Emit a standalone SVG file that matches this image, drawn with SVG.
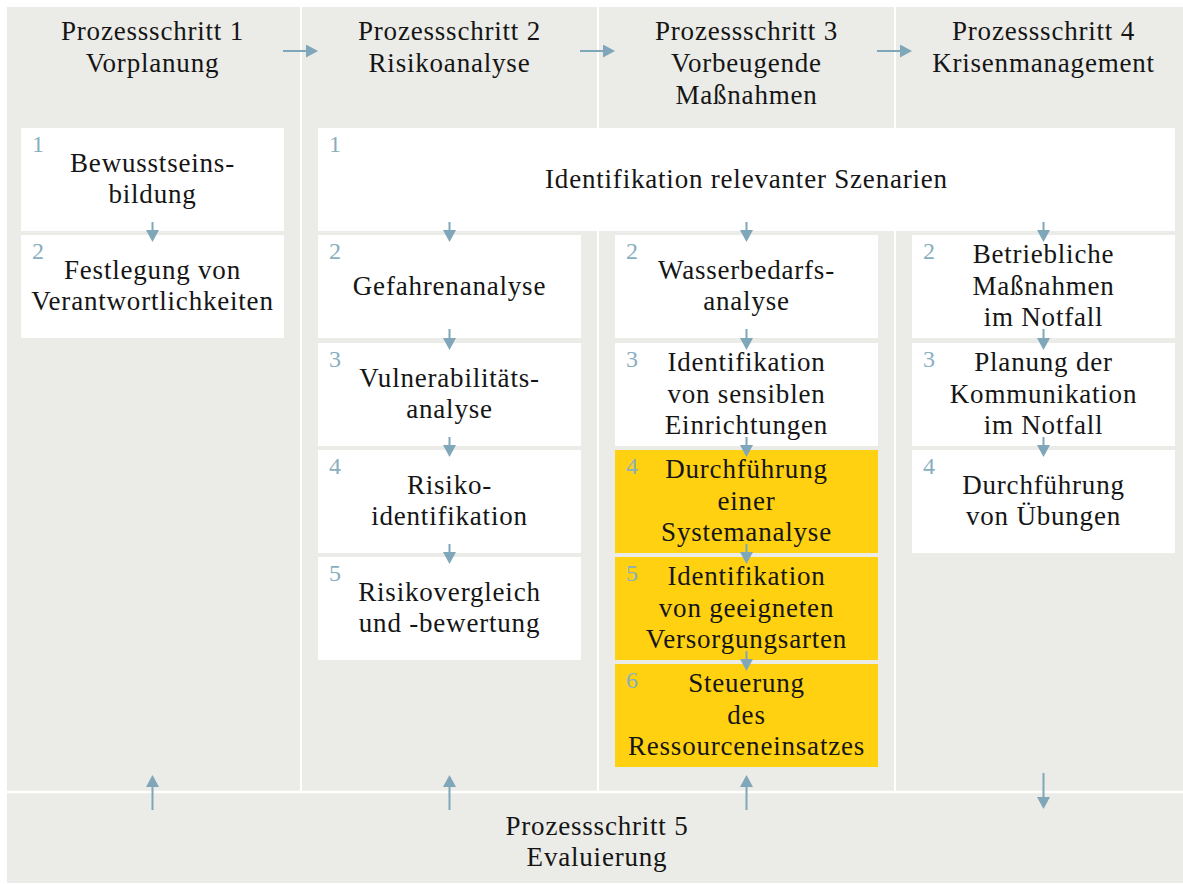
<svg xmlns="http://www.w3.org/2000/svg" width="1183" height="884" viewBox="0 0 1183 884">
  <style>
    .bg { fill: #EBEBE7; }
    .sep { stroke: #FFFFFF; stroke-width: 2; }
    .box { fill: #FFFFFF; }
    .hl { fill: #FFD111; }
    .n { font-size: 24px; fill: #89AEC0; text-anchor: start; letter-spacing: 0; }
    .c { stroke: #7FA6B9; stroke-width: 2; fill: none; marker-end: url(#head); }
  </style>
  <defs>
    <marker id="head" markerUnits="userSpaceOnUse" markerWidth="13" markerHeight="13" refX="1" refY="6.5" orient="auto">
      <path d="M0,0 L12,6.5 L0,13 z" fill="#7FA6B9"/>
    </marker>
  </defs>

  <!-- background panel and white separators -->
  <rect class="bg" x="7" y="7" width="1176" height="876"/>
  <line class="sep" x1="301" y1="7" x2="301" y2="792"/>
  <line class="sep" x1="598" y1="7" x2="598" y2="792"/>
  <line class="sep" x1="895" y1="7" x2="895" y2="792"/>
  <line class="sep" x1="7" y1="792" x2="1183" y2="792" style="stroke-width:2.5"/>

  <g font-family="Liberation Serif" font-size="27" letter-spacing="0.8" fill="#151515" text-anchor="middle">
  <!-- column headers -->
  <g id="step1">
    <text x="152.5" y="40">Prozessschritt 1</text>
    <text x="152.5" y="72">Vorplanung</text>
  </g>
  <g id="step2">
    <text x="449.5" y="40">Prozessschritt 2</text>
    <text x="449.5" y="72">Risikoanalyse</text>
  </g>
  <g id="step3">
    <text x="746.5" y="40">Prozessschritt 3</text>
    <text x="746.5" y="72">Vorbeugende</text>
    <text x="746.5" y="104">Maßnahmen</text>
  </g>
  <g id="step4">
    <text x="1043.5" y="40">Prozessschritt 4</text>
    <text x="1043.5" y="72">Krisenmanagement</text>
  </g>
  <g id="step5">
    <text x="597" y="835">Prozessschritt 5</text>
    <text x="597" y="866">Evaluierung</text>
  </g>

  <!-- step 1 tasks -->
  <g id="s1-1">
    <rect class="box" x="21" y="128" width="263" height="103"/>
    <text class="n" x="32" y="152">1</text>
    <text x="152.5" y="172">Bewusstseins-</text>
    <text x="152.5" y="203">bildung</text>
  </g>
  <g id="s1-2">
    <rect class="box" x="21" y="235" width="263" height="103"/>
    <text class="n" x="32" y="259">2</text>
    <text x="152.5" y="279">Festlegung von</text>
    <text x="152.5" y="310">Verantwortlichkeiten</text>
  </g>

  <!-- shared task across steps 2-4 -->
  <g id="s234-1">
    <rect class="box" x="318" y="128" width="857" height="103"/>
    <text class="n" x="329" y="152">1</text>
    <text x="746.5" y="187.5">Identifikation relevanter Szenarien</text>
  </g>

  <!-- step 2 tasks -->
  <g id="s2-2">
    <rect class="box" x="318" y="235" width="263" height="103"/>
    <text class="n" x="329" y="259">2</text>
    <text x="449.5" y="294.5">Gefahrenanalyse</text>
  </g>
  <g id="s2-3">
    <rect class="box" x="318" y="343" width="263" height="103"/>
    <text class="n" x="329" y="367">3</text>
    <text x="449.5" y="387">Vulnerabilitäts-</text>
    <text x="449.5" y="418">analyse</text>
  </g>
  <g id="s2-4">
    <rect class="box" x="318" y="450" width="263" height="103"/>
    <text class="n" x="329" y="474">4</text>
    <text x="449.5" y="494">Risiko-</text>
    <text x="449.5" y="525">identifikation</text>
  </g>
  <g id="s2-5">
    <rect class="box" x="318" y="557" width="263" height="103"/>
    <text class="n" x="329" y="581">5</text>
    <text x="449.5" y="601">Risikovergleich</text>
    <text x="449.5" y="632">und -bewertung</text>
  </g>

  <!-- step 3 tasks -->
  <g id="s3-2">
    <rect class="box" x="615" y="235" width="263" height="103"/>
    <text class="n" x="626" y="259">2</text>
    <text x="746.5" y="279">Wasserbedarfs-</text>
    <text x="746.5" y="310">analyse</text>
  </g>
  <g id="s3-3">
    <rect class="box" x="615" y="343" width="263" height="103"/>
    <text class="n" x="626" y="367">3</text>
    <text x="746.5" y="371">Identifikation</text>
    <text x="746.5" y="402.5">von sensiblen</text>
    <text x="746.5" y="434">Einrichtungen</text>
  </g>
  <g id="s3-4">
    <rect class="hl" x="615" y="450" width="263" height="103"/>
    <text class="n" x="626" y="474">4</text>
    <text x="746.5" y="478">Durchführung</text>
    <text x="746.5" y="509.5">einer</text>
    <text x="746.5" y="541">Systemanalyse</text>
  </g>
  <g id="s3-5">
    <rect class="hl" x="615" y="557" width="263" height="103"/>
    <text class="n" x="626" y="581">5</text>
    <text x="746.5" y="585">Identifikation</text>
    <text x="746.5" y="616.5">von geeigneten</text>
    <text x="746.5" y="648">Versorgungsarten</text>
  </g>
  <g id="s3-6">
    <rect class="hl" x="615" y="664" width="263" height="103"/>
    <text class="n" x="626" y="688">6</text>
    <text x="746.5" y="692">Steuerung</text>
    <text x="746.5" y="723.5">des</text>
    <text x="746.5" y="755">Ressourceneinsatzes</text>
  </g>

  <!-- step 4 tasks -->
  <g id="s4-2">
    <rect class="box" x="912" y="235" width="263" height="103"/>
    <text class="n" x="923" y="259">2</text>
    <text x="1043.5" y="263">Betriebliche</text>
    <text x="1043.5" y="294.5">Maßnahmen</text>
    <text x="1043.5" y="326">im Notfall</text>
  </g>
  <g id="s4-3">
    <rect class="box" x="912" y="343" width="263" height="103"/>
    <text class="n" x="923" y="367">3</text>
    <text x="1043.5" y="371">Planung der</text>
    <text x="1043.5" y="402.5">Kommunikation</text>
    <text x="1043.5" y="434">im Notfall</text>
  </g>
  <g id="s4-4">
    <rect class="box" x="912" y="450" width="263" height="103"/>
    <text class="n" x="923" y="474">4</text>
    <text x="1043.5" y="494">Durchführung</text>
    <text x="1043.5" y="525">von Übungen</text>
  </g>
  </g>

  <!-- connectors -->
  <g id="connectors">
    <!-- step to step -->
    <path class="c" d="M283,51 H307"/>
    <path class="c" d="M580,51 H604"/>
    <path class="c" d="M877,51 H901"/>
    <!-- step 1 -->
    <path class="c" d="M152.5,222 V231"/>
    <!-- step 2 -->
    <path class="c" d="M449.5,222 V231"/>
    <path class="c" d="M449.5,329 V339"/>
    <path class="c" d="M449.5,437 V446"/>
    <path class="c" d="M449.5,544 V553"/>
    <!-- step 3 -->
    <path class="c" d="M746.5,222 V231"/>
    <path class="c" d="M746.5,329 V339"/>
    <path class="c" d="M746.5,437 V446"/>
    <path class="c" d="M746.5,544 V553"/>
    <path class="c" d="M746.5,651 V660"/>
    <!-- step 4 -->
    <path class="c" d="M1043.5,222 V231"/>
    <path class="c" d="M1043.5,329 V339"/>
    <path class="c" d="M1043.5,437 V446"/>
    <!-- evaluation links -->
    <path class="c" d="M152.5,810 V786"/>
    <path class="c" d="M449.5,810 V786"/>
    <path class="c" d="M746.5,810 V786"/>
    <path class="c" d="M1043.5,773 V798"/>
  </g>
</svg>
